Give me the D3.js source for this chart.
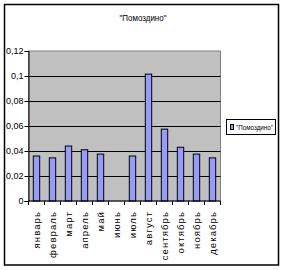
<!DOCTYPE html>
<html lang="ru">
<head>
  <meta charset="UTF-8" />
  <title>"Помоздино"</title>
  <script src="https://cdn.jsdelivr.net/npm/d3@7"></script>
  <style>
    html, body { margin: 0; padding: 0; background: #fff; }
    svg { display: block; font-family: Arial, "Liberation Sans", sans-serif; }
  </style>
</head>
<body>
  <script>
    // Data
    const months = ["январь", "февраль", "март", "апрель", "май", "июнь",
                    "июль", "август", "сентябрь", "октябрь", "ноябрь", "декабрь"];
    const values = [0.036, 0.0345, 0.044, 0.041, 0.0375, 0, 0.036, 0.1015, 0.0575, 0.043, 0.0375, 0.0345];
    const yTicks = [0, 0.02, 0.04, 0.06, 0.08, 0.1, 0.12];
    const seriesName = "\"Помоздино\"";

    const width = 284, height = 270;
    const plot = { left: 28.5, right: 220.5, top: 51, bottom: 201 };

    const svg = d3.select("body").append("svg")
      .attr("width", width)
      .attr("height", height);

    // outer chart border
    svg.append("rect")
      .attr("x", 4.5).attr("y", 4.5)
      .attr("width", 274).attr("height", 260.5)
      .attr("fill", "#fff")
      .attr("stroke", "#000")
      .attr("stroke-width", 1.5);

    const x = d3.scaleBand().domain(months).range([plot.left, plot.right]);
    const y = d3.scaleLinear().domain([0, 0.12]).range([plot.bottom, plot.top]);

    const ru = d3.formatLocale({ decimal: ",", thousands: " ", grouping: [3], currency: ["", ""] });
    const fmt = ru.format(".2~f");

    // plot background
    svg.append("rect")
      .attr("x", plot.left).attr("y", plot.top)
      .attr("width", plot.right - plot.left)
      .attr("height", plot.bottom - plot.top)
      .attr("fill", "#c0c0c0")
      .attr("stroke", "#808080");

    // gridlines
    svg.append("g")
      .selectAll("line")
      .data(yTicks.filter(d => d > 0 && d < 0.12))
      .join("line")
      .attr("x1", plot.left).attr("x2", plot.right)
      .attr("y1", d => Math.round(y(d)) + 0.5)
      .attr("y2", d => Math.round(y(d)) + 0.5)
      .attr("stroke", "#000");

    // bars (zero values are skipped)
    const bars = months.map((m, i) => ({ month: m, value: values[i] })).filter(d => d.value > 0);
    const barW = x.bandwidth() * 0.4;
    svg.append("g")
      .selectAll("rect")
      .data(bars)
      .join("rect")
      .attr("x", d => x(d.month) + x.bandwidth() / 2 - barW / 2)
      .attr("y", d => y(d.value))
      .attr("width", barW)
      .attr("height", d => y(0) - y(d.value))
      .attr("fill", "#9999ff")
      .attr("stroke", "#000");

    // y axis
    const yAxis = svg.append("g")
      .attr("transform", `translate(${plot.left},0)`)
      .call(d3.axisLeft(y).tickValues(yTicks).tickFormat(fmt).tickSize(4).tickPadding(1));
    yAxis.select(".domain").attr("stroke", "#000");
    yAxis.selectAll("text").attr("font-size", 9).attr("fill", "#000").attr("font-family", "Arial, 'Liberation Sans', sans-serif");

    // x axis
    const xAxis = svg.append("g")
      .attr("transform", `translate(0,${plot.bottom})`);
    xAxis.append("line")
      .attr("x1", plot.left).attr("x2", plot.right)
      .attr("stroke", "#000");
    xAxis.selectAll("line.tick")
      .data(d3.range(months.length + 1))
      .join("line")
      .attr("class", "tick")
      .attr("x1", i => plot.left + i * x.step())
      .attr("x2", i => plot.left + i * x.step())
      .attr("y1", 0).attr("y2", 4)
      .attr("stroke", "#000");
    xAxis.selectAll("text")
      .data(months)
      .join("text")
      .attr("transform", d => `translate(${x(d) + x.bandwidth() / 2 + 3.5},10) rotate(-90)`)
      .attr("text-anchor", "end")
      .attr("font-size", 9.5)
      .attr("letter-spacing", 1.1)
      .text(d => d);

    // title
    svg.append("text")
      .attr("x", 143).attr("y", 21)
      .attr("text-anchor", "middle")
      .attr("font-size", 9)
      .attr("textLength", 47)
      .attr("lengthAdjust", "spacingAndGlyphs")
      .text(seriesName);

    // legend
    const legend = svg.append("g");
    legend.append("rect")
      .attr("x", 226.5).attr("y", 119.5)
      .attr("width", 49).attr("height", 15)
      .attr("fill", "#fff")
      .attr("stroke", "#000");
    legend.append("rect")
      .attr("x", 230.5).attr("y", 124.5)
      .attr("width", 3).attr("height", 5)
      .attr("fill", "#9999ff")
      .attr("stroke", "#000");
    legend.append("text")
      .attr("x", 236).attr("y", 130)
      .attr("font-size", 8)
      .attr("textLength", 37)
      .attr("lengthAdjust", "spacingAndGlyphs")
      .text(seriesName);
  </script>
</body>
</html>
